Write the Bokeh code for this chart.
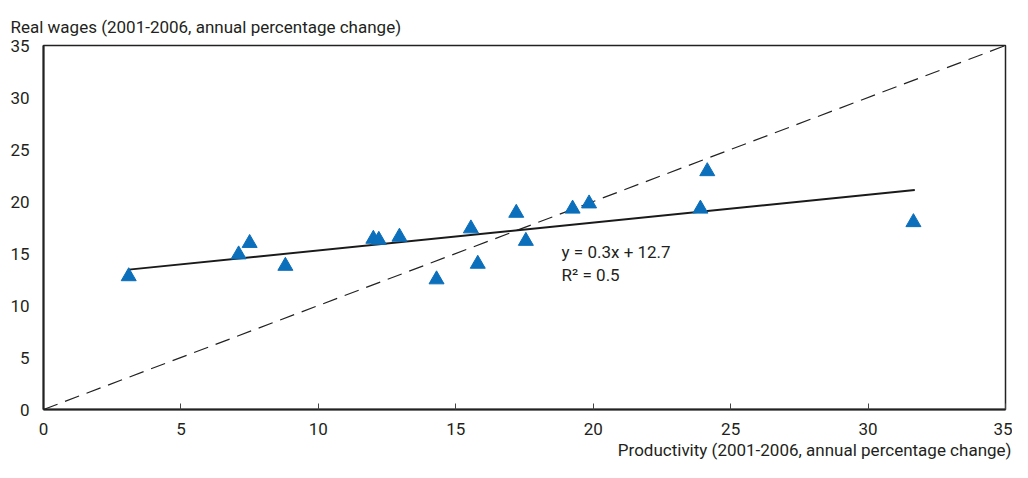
from bokeh.plotting import figure
from bokeh.models import Range1d, FixedTicker, Label, ColumnDataSource, Title
from bokeh.embed import file_html
from bokeh.resources import INLINE

# Data
productivity = [3.1, 7.1, 7.5, 8.8, 12.0, 12.2, 12.95, 14.3, 15.55, 15.8, 17.2, 17.55, 19.25, 19.85, 23.9, 24.15, 31.65]
real_wages = [12.8, 14.9, 16.0, 13.8, 16.4, 16.3, 16.6, 12.5, 17.4, 14.0, 18.9, 16.2, 19.3, 19.8, 19.3, 22.9, 18.0]
trend_x = [3.1, 31.7]
trend_y = [13.45, 21.1]
diag_x = [0, 35]
diag_y = [0, 35]
x_ticks = [0, 5, 10, 15, 20, 25, 30, 35]
y_ticks = [0, 5, 10, 15, 20, 25, 30, 35]
x_title = "Productivity (2001-2006, annual percentage change)"
y_title = "Real wages (2001-2006, annual percentage change)"
eq_text = ["y = 0.3x + 12.7", "R\u00b2 = 0.5"]

FONT = "Roboto"
FS = "17px"
TXT = "#231f20"

p = figure(width=1012, height=462, output_backend="svg", toolbar_location=None,
           x_range=Range1d(0, 35), y_range=Range1d(0, 35))
p.min_border_left = 43
p.min_border_right = 7
p.min_border_top = 45
p.min_border_bottom = 53
p.background_fill_color = "white"
p.border_fill_color = "white"
p.outline_line_color = "#222222"
p.outline_line_width = 1.5
p.xgrid.visible = False
p.ygrid.visible = False

# axes
p.xaxis.ticker = FixedTicker(ticks=x_ticks)
p.xaxis.major_tick_in = 6
p.xaxis.major_tick_out = 0
p.xaxis.minor_tick_line_color = None
p.xaxis.axis_line_color = "#222222"
p.xaxis.axis_line_width = 2
p.xaxis.major_tick_line_color = "#444444"
p.xaxis.major_label_standoff = 13
p.xaxis.major_label_text_font = FONT
p.xaxis.major_label_text_font_size = FS
p.xaxis.major_label_text_color = TXT

p.yaxis.ticker = FixedTicker(ticks=y_ticks)
p.yaxis.major_tick_in = 0
p.yaxis.major_tick_out = 0
p.yaxis.minor_tick_line_color = None
p.yaxis.axis_line_color = "#222222"
p.yaxis.axis_line_width = 2
p.yaxis.major_label_standoff = 14
p.yaxis.major_label_text_font = FONT
p.yaxis.major_label_text_font_size = FS
p.yaxis.major_label_text_color = TXT

# axis titles as side titles
t_top = Title(text=y_title, align="left", offset=-33, text_font=FONT,
              text_font_size=FS, text_font_style="normal", text_color=TXT,
              standoff=17)
p.add_layout(t_top, "above")
t_bot = Title(text=x_title, align="right", offset=-6, text_font=FONT,
              text_font_size=FS, text_font_style="normal", text_color=TXT,
              standoff=0)
p.add_layout(t_bot, "below")

# lines
p.line(diag_x, diag_y, line_color="#222222", line_width=1.2, line_dash="15 8")
p.line(trend_x, trend_y, line_color="#1a1a1a", line_width=2)

# points
src = ColumnDataSource(dict(x=productivity, y=real_wages))
p.scatter("x", "y", source=src, marker="triangle", size=15,
          fill_color="#0b6fbb", line_color="#0b6fbb")

# equation text
p.add_layout(Label(x=18.85, y=15.1, text=eq_text[0], text_font=FONT,
                   text_font_size=FS, text_color=TXT, text_baseline="middle"))
p.add_layout(Label(x=18.85, y=12.95, text=eq_text[1], text_font=FONT,
                   text_font_size=FS, text_color=TXT, text_baseline="middle"))

open("out.html", "w").write(file_html(p, INLINE))
